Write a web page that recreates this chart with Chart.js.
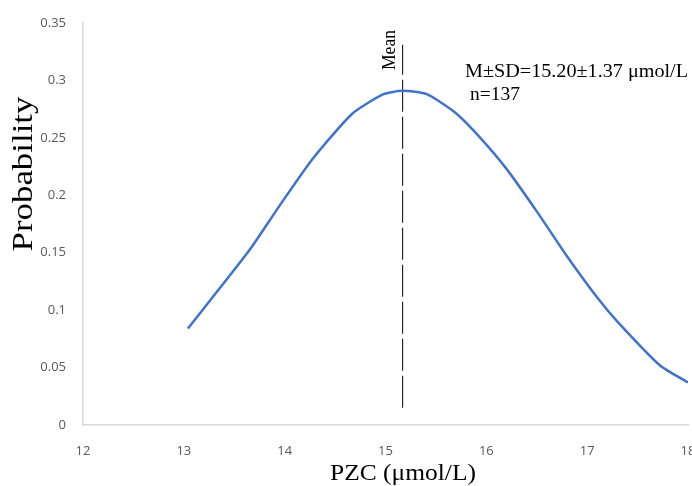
<!DOCTYPE html>
<html>
<head>
<meta charset="utf-8">
<script src="https://cdn.jsdelivr.net/npm/chart.js@4.4.1/dist/chart.umd.min.js"></script>
<style>
  html, body { margin: 0; padding: 0; background: #ffffff; }
  #pzc_chart { display: block; }
</style>
</head>
<body>
<canvas id="pzc_chart" width="692" height="486"></canvas>
<script>
// values
var pzc_values = [13.04, 13.64, 13.95, 14.28, 14.67, 14.98, 15.17, 15.41, 15.69, 15.94, 16.2, 16.5, 16.8, 17.1, 17.3, 17.72, 18.0];
var prob_values = [0.084, 0.151, 0.191, 0.232, 0.271, 0.288, 0.291, 0.288, 0.272, 0.250, 0.223, 0.186, 0.147, 0.111, 0.090, 0.052, 0.037];
var mean_x = 15.17;
var mean_line_y = [0.015, 0.331];
var x_ticks = [12, 13, 14, 15, 16, 17, 18];
var y_ticks = [0, 0.05, 0.1, 0.15, 0.2, 0.25, 0.3, 0.35];

var curve_points = pzc_values.map(function (v, i) { return {x: v, y: prob_values[i]}; });
var mean_points = mean_line_y.map(function (v) { return {x: mean_x, y: v}; });

// draws text stretched to a given width (the reference text is a bit wide)
function stretch_text(ctx, text, x, y, width, rotate) {
  var w0 = ctx.measureText(text).width;
  ctx.save();
  ctx.translate(x, y);
  if (rotate) ctx.rotate(-Math.PI / 2);
  ctx.scale(width / w0, 1);
  ctx.fillText(text, -w0 / 2, 0);
  ctx.restore();
}

var text_plugin = {
  id: 'text_plugin',
  afterDraw: function (chart) {
    var ctx = chart.ctx;
    ctx.save();
    ctx.fillStyle = '#000000';
    ctx.textBaseline = 'alphabetic';
    ctx.textAlign = 'left';
    var serif = '"Liberation Serif", "Times New Roman", serif';

    ctx.font = '29px ' + serif;
    stretch_text(ctx, 'Probability', 32, 174, 155, true);

    ctx.font = '23px ' + serif;
    stretch_text(ctx, 'PZC (\u03bcmol/L)', 403, 480, 146, false);

    ctx.font = '18px ' + serif;
    stretch_text(ctx, 'Mean', 395, 50, 40, true);
    stretch_text(ctx, 'M\u00b1SD=15.20\u00b11.37 \u03bcmol/L', 465 + 111.5, 77, 223, false);
    stretch_text(ctx, 'n=137', 470 + 25, 100, 50, false);
    ctx.restore();
  }
};

function no_pad(scale) {
  scale.paddingLeft = 0;
  scale.paddingRight = 0;
  scale.paddingTop = 0;
  scale.paddingBottom = 0;
}

var ctx = document.getElementById('pzc_chart').getContext('2d');
var chart = new Chart(ctx, {
  type: 'scatter',
  data: {
    datasets: [{
      label: 'Probability',
      data: curve_points,
      showLine: true,
      borderColor: '#4472C4',
      borderWidth: 2.5,
      pointRadius: 0,
      tension: 0.2,
      fill: false
    }, {
      label: 'Mean',
      data: mean_points,
      showLine: true,
      borderColor: '#000000',
      borderWidth: 1,
      borderDash: [32, 5],
      pointRadius: 0,
      fill: false
    }]
  },
  options: {
    responsive: false,
    animation: false,
    layout: {
      padding: {top: 23, right: 4, left: 0, bottom: 0}
    },
    plugins: {
      legend: {display: false},
      tooltip: {enabled: false}
    },
    scales: {
      x: {
        type: 'linear',
        min: 12,
        max: 18,
        afterBuildTicks: function (scale) {
          scale.ticks = x_ticks.map(function (v) { return {value: v}; });
        },
        afterFit: function (scale) {
          scale.height = 61;
          no_pad(scale);
        },
        grid: {display: false, drawTicks: false},
        border: {display: true, color: '#d9d9d9', width: 1.5},
        ticks: {
          padding: 18,
          maxRotation: 0,
          color: '#595959',
          font: {family: '"Open Sans", sans-serif', size: 13},
          callback: function (v) { return String(v); }
        }
      },
      y: {
        type: 'linear',
        min: 0,
        max: 0.35,
        afterBuildTicks: function (scale) {
          scale.ticks = y_ticks.map(function (v) { return {value: v}; });
        },
        afterFit: function (scale) {
          scale.width = 83;
          no_pad(scale);
        },
        grid: {display: false, drawTicks: false},
        border: {display: true, color: '#d9d9d9', width: 1.5},
        ticks: {
          padding: 17,
          color: '#595959',
          font: {family: '"Open Sans", sans-serif', size: 13},
          callback: function (v) { return String(Math.round(v * 100) / 100); }
        }
      }
    }
  },
  plugins: [text_plugin]
});
</script>
</body>
</html>
